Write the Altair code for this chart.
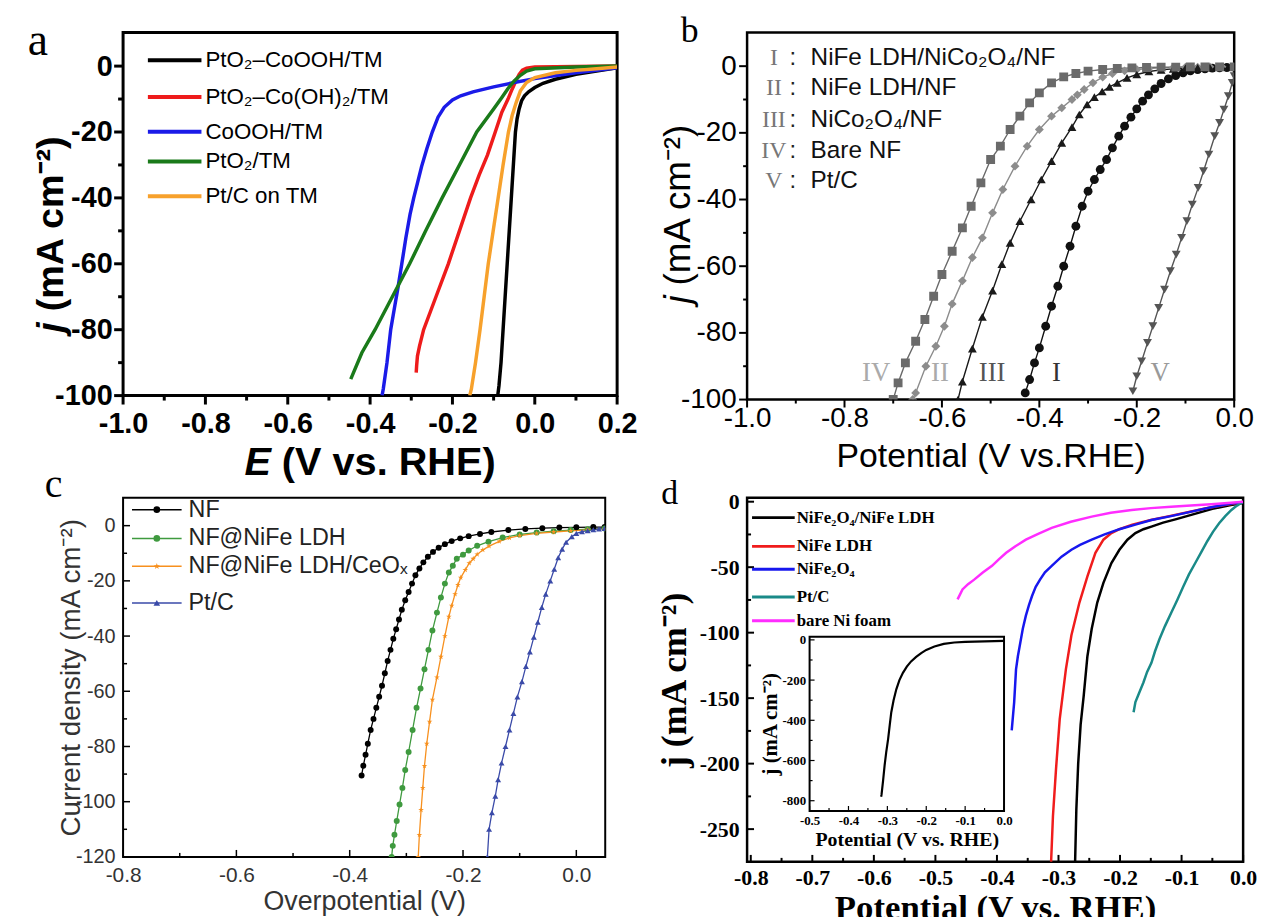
import altair as alt
import pandas as pd

# ================= DATA =================
# ---- panel a
a_names = ["PtO\u2082\u2013CoOOH/TM", "PtO\u2082\u2013Co(OH)\u2082/TM", "CoOOH/TM", "PtO\u2082/TM", "Pt/C on TM"]
a_colors = ["#000000", "#ee1b1b", "#1b1be8", "#1a7a1a", "#f7a12c"]
a_black_x = [0.2, 0.15, 0.1, 0.05, 0.02, 0.0, -0.015, -0.025, -0.032, -0.038, -0.043, -0.047, -0.052, -0.057, -0.062, -0.067, -0.072, -0.077, -0.082, -0.087, -0.09]
a_black_y = [-0.5, -1.5, -2.5, -4, -5.2, -6.5, -7.8, -9, -10.5, -13, -16, -20, -30, -40, -50, -60, -70, -80, -90, -97, -100]
a_red_x = [0.2, 0.1, 0.0, -0.02, -0.03, -0.038, -0.046, -0.055, -0.065, -0.08, -0.096, -0.115, -0.135, -0.156, -0.183, -0.21, -0.24, -0.27, -0.28, -0.285, -0.287, -0.288]
a_red_y = [0, -0.1, -0.3, -0.6, -1.2, -2.5, -4.5, -7, -10, -14, -20, -27, -33, -40, -50, -60, -70, -80, -85, -88, -91, -93]
a_blue_x = [0.2, 0.1, 0.0, -0.05, -0.1, -0.15, -0.18, -0.2, -0.22, -0.235, -0.249, -0.262, -0.275, -0.285, -0.294, -0.303, -0.313, -0.323, -0.332, -0.341, -0.35, -0.359, -0.368, -0.371]
a_blue_y = [-0.5, -2, -3.8, -5, -6.3, -7.8, -9, -10.3, -12.5, -15.5, -20, -25, -30.5, -35.5, -40, -45, -52, -60, -67, -73.5, -80, -90, -98, -100]
a_green_x = [0.2, 0.1, 0.0, -0.02, -0.035, -0.05, -0.065, -0.08, -0.1, -0.141, -0.183, -0.225, -0.265, -0.304, -0.346, -0.388, -0.42, -0.447]
a_green_y = [0, -0.3, -0.8, -1.5, -2.8, -4.5, -6.8, -9.5, -13, -20, -30, -40, -50, -60, -70, -80, -87, -95]
a_orange_x = [0.2, 0.15, 0.1, 0.05, 0.0, -0.02, -0.035, -0.045, -0.055, -0.064, -0.077, -0.089, -0.101, -0.113, -0.123, -0.133, -0.144, -0.154, -0.158]
a_orange_y = [-0.3, -0.8, -1.3, -2, -3.5, -5, -7.5, -11, -15, -20, -30, -40, -50, -60, -70, -80, -90, -98, -100]
a_xticks = [-1.0, -0.8, -0.6, -0.4, -0.2, 0.0, 0.2]
a_xminor = [-0.9, -0.7, -0.5, -0.3, -0.1, 0.1]
a_yticks = [0, -20, -40, -60, -80, -100]
a_yminor = [-10, -30, -50, -70, -90]

# ---- panel b
b_names = ["NiFe LDH/NiCo\u2082O\u2084/NF", "NiFe LDH/NF", "NiCo\u2082O\u2084/NF", "Bare NF", "Pt/C"]
b_numerals = ["I", "II", "III", "IV", "V"]
b_colors = ["#111111", "#8c8c8c", "#1a1a1a", "#6a6a6a", "#555555"]
b_shapes = ["circle", "diamond", "triangle-up", "square", "triangle-down"]
b_I_x = [0.0, -0.015, -0.03, -0.045, -0.06, -0.075, -0.09, -0.105, -0.12, -0.135, -0.15, -0.163, -0.176, -0.188, -0.2, -0.212, -0.225, -0.237, -0.25, -0.262, -0.275, -0.287, -0.3, -0.312, -0.325, -0.337, -0.35, -0.362, -0.375, -0.387, -0.4, -0.41, -0.42, -0.429]
b_I_y = [-0.3, -0.4, -0.5, -0.6, -0.8, -1, -1.4, -2, -2.8, -3.8, -5.2, -6.8, -8.6, -10.5, -12.8, -15.3, -18, -21, -24.5, -28, -31, -34, -37.5, -42, -48, -54, -60, -66, -72, -78, -84.5, -89, -94, -98]
b_II_x = [0.0, -0.025, -0.05, -0.075, -0.1, -0.125, -0.15, -0.175, -0.2, -0.225, -0.25, -0.27, -0.29, -0.308, -0.322, -0.333, -0.354, -0.375, -0.4, -0.425, -0.45, -0.475, -0.496, -0.517, -0.5375, -0.558, -0.579, -0.595, -0.6125, -0.633, -0.654, -0.66]
b_II_y = [-0.2, -0.2, -0.2, -0.3, -0.3, -0.4, -0.5, -0.7, -1, -1.4, -2.2, -3.3, -5, -7, -8.6, -10, -12.5, -15, -19, -24, -30, -37, -44, -51.5, -57.4, -64.4, -71.3, -78, -84, -90, -98, -100]
b_III_x = [0.0, -0.025, -0.05, -0.075, -0.1, -0.125, -0.15, -0.175, -0.2, -0.22, -0.24, -0.256, -0.271, -0.287, -0.302, -0.318, -0.333, -0.354, -0.375, -0.396, -0.417, -0.44, -0.46, -0.477, -0.496, -0.517, -0.5375, -0.558, -0.567]
b_III_y = [-0.3, -0.3, -0.4, -0.5, -0.6, -0.8, -1.1, -1.6, -2.5, -3.5, -5, -6.2, -7.6, -9.3, -11.5, -14.5, -18.3, -23, -28.5, -34, -40, -46.5, -53, -59.4, -67.3, -75.2, -84.7, -94.6, -100]
b_IV_x = [0.0, -0.03, -0.06, -0.09, -0.12, -0.15, -0.18, -0.21, -0.24, -0.27, -0.3, -0.325, -0.35, -0.375, -0.4, -0.42, -0.44, -0.46, -0.48, -0.5, -0.52, -0.54, -0.558, -0.579, -0.6, -0.617, -0.635, -0.654, -0.675, -0.69, -0.7]
b_IV_y = [-0.2, -0.2, -0.2, -0.2, -0.3, -0.3, -0.4, -0.5, -0.7, -1, -1.5, -2.2, -3.2, -5, -8, -11, -15, -19, -24, -28, -35, -42, -48.5, -55.5, -62.5, -69, -76, -82.5, -89, -95, -100]
b_V_x = [0.0, -0.004, -0.012, -0.021, -0.03, -0.04, -0.052, -0.063, -0.074, -0.086, -0.097, -0.108, -0.119, -0.131, -0.143, -0.155, -0.167, -0.178, -0.19, -0.2, -0.208]
b_V_y = [-3, -5, -9, -13, -17, -21, -26.5, -31.5, -36.5, -41.5, -46.5, -51.5, -56.5, -61.5, -67, -72.5, -78, -83, -88.5, -93, -97.5]
b_label_x = [-0.365, -0.604, -0.497, -0.735, -0.152]
b_label_y = [-92, -92, -92, -92, -92]
b_label_colors = ["#333333", "#aaaaaa", "#555555", "#aaaaaa", "#999999"]
b_xticks = [-1.0, -0.8, -0.6, -0.4, -0.2, 0.0]
b_xminor = [-0.9, -0.7, -0.5, -0.3, -0.1]
b_yticks = [0, -20, -40, -60, -80, -100]
b_yminor = [-10, -30, -50, -70, -90]

# ---- panel c
c_names = ["NF", "NF@NiFe LDH", "NF@NiFe LDH/CeO\u2093", "Pt/C"]
c_colors = ["#000000", "#3f9a3f", "#f7901e", "#3a4aa8"]
c_NF_x = [0.05, 0.03, 0.0, -0.03, -0.06, -0.09, -0.12, -0.15, -0.17, -0.19, -0.205, -0.22, -0.232, -0.243, -0.253, -0.262, -0.27, -0.277, -0.284, -0.29, -0.296, -0.302, -0.308, -0.313, -0.318, -0.323, -0.328, -0.333, -0.338, -0.343, -0.348, -0.353, -0.358, -0.363, -0.368, -0.372, -0.376, -0.379]
c_NF_y = [-0.5, -0.5, -0.6, -0.7, -0.9, -1.2, -1.6, -2.3, -3, -3.8, -4.6, -5.6, -6.7, -8, -9.5, -11.3, -13.3, -15.5, -18, -21, -24, -27, -30.5, -34, -37.5, -41, -45, -49, -53.5, -58, -62, -66, -70, -74, -79, -83, -87, -90.5]
c_LDH_x = [0.05, 0.02, -0.01, -0.04, -0.07, -0.1, -0.13, -0.155, -0.175, -0.19, -0.2, -0.211, -0.218, -0.225, -0.232, -0.239, -0.246, -0.254, -0.261, -0.268, -0.275, -0.282, -0.289, -0.296, -0.302, -0.307, -0.312, -0.317, -0.321, -0.324, -0.326]
c_LDH_y = [-1, -1.3, -1.6, -2, -2.5, -3.2, -4.3, -5.8, -7.3, -9, -10.5, -12, -14.5, -17, -21, -26, -31.5, -38, -45, -52, -59, -66, -74, -82, -88.5, -95, -101, -107, -112, -116, -120]
c_Ce_x = [0.05, 0.02, -0.01, -0.04, -0.07, -0.1, -0.118, -0.136, -0.154, -0.165, -0.175, -0.182, -0.189, -0.196, -0.204, -0.209, -0.214, -0.22, -0.225, -0.232, -0.239, -0.246, -0.254, -0.259, -0.264, -0.268, -0.271, -0.274, -0.277, -0.279]
c_Ce_y = [-1.2, -1.5, -1.9, -2.3, -2.8, -3.6, -4.4, -5.7, -7.4, -8.8, -10.4, -12, -13.6, -16, -18.8, -21.5, -24.8, -29, -33, -40, -47.5, -55, -63, -71, -79, -87, -95, -103, -112, -120]
c_Pt_x = [0.05, 0.04, 0.03, 0.02, 0.01, 0.0, -0.008, -0.018, -0.025, -0.032, -0.039, -0.046, -0.054, -0.061, -0.068, -0.075, -0.082, -0.089, -0.096, -0.104, -0.111, -0.118, -0.125, -0.132, -0.138, -0.143, -0.149, -0.154, -0.157]
c_Pt_y = [-1, -1.2, -1.5, -1.8, -2.2, -2.8, -4, -6, -8.5, -11.6, -15.8, -20, -24.8, -29.6, -35, -40.4, -45.7, -51, -56.5, -62, -68, -74, -80, -86, -92, -98, -104, -110, -120]
c_xticks = [-0.8, -0.6, -0.4, -0.2, 0.0]
c_xminor = [-0.7, -0.5, -0.3, -0.1]
c_yticks = [0, -20, -40, -60, -80, -100, -120]
c_yminor = [-10, -30, -50, -70, -90, -110]

# ---- panel d
d_names = ["NiFe\u2082O\u2084/NiFe LDH", "NiFe LDH", "NiFe\u2082O\u2084", "Pt/C", "bare Ni foam"]
d_colors = ["#000000", "#f01c1c", "#1717ee", "#1a8a88", "#ff2cff"]
d_k_x = [0.0, -0.02, -0.05, -0.08, -0.11, -0.13, -0.149, -0.162, -0.175, -0.188, -0.201, -0.214, -0.227, -0.237, -0.246, -0.253, -0.259, -0.264, -0.268, -0.271, -0.273]
d_k_y = [-1, -2.5, -5.5, -9.5, -13.5, -16, -19, -21, -24, -29, -36.7, -46.8, -62, -77, -97, -118, -148, -170, -200, -235, -275]
d_r_x = [0.0, -0.03, -0.06, -0.09, -0.12, -0.15, -0.18, -0.201, -0.214, -0.227, -0.24, -0.253, -0.266, -0.279, -0.288, -0.298, -0.304, -0.309, -0.312]
d_r_y = [-0.5, -2.5, -5, -8, -11, -14, -17.5, -21, -24, -29, -39, -57, -77, -102, -128, -166, -204, -240, -275]
d_b_x = [0.0, -0.019, -0.05, -0.084, -0.117, -0.149, -0.175, -0.201, -0.225, -0.246, -0.265, -0.279, -0.295, -0.311, -0.322, -0.33, -0.337, -0.343, -0.348, -0.353, -0.358, -0.362, -0.366, -0.369, -0.372, -0.376]
d_b_y = [-0.5, -1.3, -4, -7.6, -11, -14, -17.5, -21, -25, -29, -33, -36.7, -42, -49, -54, -59.5, -65, -72, -79, -87, -97, -107.5, -118, -128, -153, -174.6]
d_t_x = [0.0, -0.01, -0.019, -0.029, -0.039, -0.049, -0.058, -0.068, -0.078, -0.088, -0.097, -0.107, -0.117, -0.127, -0.136, -0.143, -0.149, -0.156, -0.162, -0.169, -0.175, -0.178]
d_t_y = [0, -3, -6.3, -11, -16.4, -23, -30, -38.5, -47, -55.5, -64.5, -75, -85, -95, -105, -114, -123, -130, -138, -146, -153, -160.7]
d_m_x = [0.0, -0.025, -0.052, -0.085, -0.117, -0.15, -0.181, -0.215, -0.246, -0.28, -0.311, -0.333, -0.353, -0.37, -0.385, -0.397, -0.408, -0.423, -0.437, -0.447, -0.456, -0.464]
d_m_y = [0, -1, -2, -2.9, -3.8, -4.9, -6.3, -8.5, -11.4, -15.3, -20, -24.5, -29, -34, -39, -44, -49, -54, -59.5, -63, -67, -74.6]
d_xticks = [-0.8, -0.7, -0.6, -0.5, -0.4, -0.3, -0.2, -0.1, 0.0]
d_xminor = [-0.75, -0.65, -0.55, -0.45, -0.35, -0.25, -0.15, -0.05]
d_yticks = [0, -50, -100, -150, -200, -250]
d_yminor = [-25, -75, -125, -175, -225]

# ---- inset of d
i_x = [0.0, -0.05, -0.1, -0.128, -0.155, -0.179, -0.2, -0.213, -0.226, -0.239, -0.25, -0.26, -0.269, -0.277, -0.284, -0.29, -0.294, -0.298, -0.303, -0.307, -0.311, -0.315, -0.316]
i_y = [-5, -7, -10, -13, -20, -33, -50, -66, -85, -107, -133, -164, -200, -246, -300, -361, -425, -492, -560, -623, -700, -770, -780]
i_xticks = [-0.5, -0.4, -0.3, -0.2, -0.1, 0.0]
i_xminor = [-0.45, -0.35, -0.25, -0.15, -0.05]
i_yticks = [0, -200, -400, -600, -800]
i_yminor = [-100, -300, -500, -700]

# ================= HELPERS =================
SANS = "Liberation Sans"
SERIF = "Liberation Serif"


def df_from(names, xs, ys):
    rows = []
    for n, xl, yl in zip(names, xs, ys):
        for i, (xv, yv) in enumerate(zip(xl, yl)):
            rows.append({"series": n, "x": xv, "y": yv, "i": i})
    return pd.DataFrame(rows)


def lab(fmt):
    return "replace(replace(format(datum.value, '%s'), '\u2212', '-'), '\u2212', '-')" % fmt


def axis(values, fmt, font, size, weight, color, pad, title, tsize, tpad, **kw):
    return alt.Axis(values=values, labelExpr=lab(fmt), ticks=False, domain=False, grid=False,
                    labelFont=font, labelFontSize=size, labelFontWeight=weight, labelColor=color,
                    labelPadding=pad, labelFlush=False, labelOverlap=False,
                    title=title, titleFont=font, titleFontSize=tsize, titleFontWeight=weight,
                    titleColor=color, titlePadding=tpad, **kw)


def tick_layers(xs, ys, xmaj, xmin, ymaj, ymin, x0, y0, inward, lmaj, lmin, w):
    s = -1 if inward else 1
    out = []
    for vals, L in ((xmaj, lmaj), (xmin, lmin)):
        out.append(alt.Chart(pd.DataFrame({"v": vals})).mark_tick(
            orient="vertical", size=L, thickness=w, yOffset=s * L / 2, color="black", opacity=1
        ).encode(x=alt.X("v:Q", scale=xs),
                 y=alt.Y(datum=y0, type="quantitative", scale=ys)))
    for vals, L in ((ymaj, lmaj), (ymin, lmin)):
        out.append(alt.Chart(pd.DataFrame({"v": vals})).mark_tick(
            orient="horizontal", size=L, thickness=w, xOffset=-s * L / 2, color="black", opacity=1
        ).encode(x=alt.X(datum=x0, type="quantitative", scale=xs),
                 y=alt.Y("v:Q", scale=ys)))
    return out


def txt(t, x, y, font, size, color="black", weight="normal", align="left", baseline="middle",
        angle=0, style="normal"):
    return alt.Chart(pd.DataFrame({"t": [t]})).mark_text(
        font=font, fontSize=size, color=color, fontWeight=weight, align=align, baseline=baseline,
        angle=angle, fontStyle=style
    ).encode(x=alt.value(x), y=alt.value(y), text="t:N")


def hline(x1, x2, y, color, w):
    return alt.Chart(pd.DataFrame({"t": [0]})).mark_rule(color=color, strokeWidth=w).encode(
        x=alt.value(x1), x2=alt.value(x2), y=alt.value(y))


UNIT = "(mA cm\u207b\u00b2)"

# ================= PANEL A =================
AW, AH = 498, 366
ax_s = alt.Scale(domain=[-1.0, 0.2], nice=False, zero=False)
ay_s = alt.Scale(domain=[-100, 10.2], nice=False, zero=False)
a_df = df_from(a_names, [a_black_x, a_red_x, a_blue_x, a_green_x, a_orange_x],
               [a_black_y, a_red_y, a_blue_y, a_green_y, a_orange_y])
a_lines = alt.Chart(a_df).mark_line(strokeWidth=3.5, clip=True).encode(
    x=alt.X("x:Q", scale=ax_s, axis=axis(a_xticks, ".1f", SANS, 29, "bold", "black", 14, None, 10, 0)),
    y=alt.Y("y:Q", scale=ay_s, axis=axis(a_yticks, "d", SANS, 29, "bold", "black", 11, None, 10, 0)),
    color=alt.Color("series:N", scale=alt.Scale(domain=a_names, range=a_colors), legend=None),
    order="i:Q")
a_layers = [a_lines] + tick_layers(ax_s, ay_s, a_xticks, a_xminor, a_yticks, a_yminor, -1.0, -100, False, 9, 5, 3)
a_leg_y = [28, 65, 100, 130, 165]
for i, n in enumerate(a_names):
    a_layers.append(hline(25, 79, a_leg_y[i], a_colors[i], 4))
    a_layers.append(txt(n, 83, a_leg_y[i], SANS, 22.5))
# axis titles with italic symbols
a_layers.append(txt("E", 149, 446, SANS, 40, weight="bold", style="italic", align="right", baseline="alphabetic"))
a_layers.append(txt("(V vs. RHE)", 160, 446, SANS, 40, weight="bold", align="left", baseline="alphabetic"))
a_layers.append(txt("j", -61, 292, SANS, 38, weight="bold", style="italic", align="right", baseline="alphabetic", angle=270))
a_layers.append(txt(UNIT, -61, 281, SANS, 38, weight="bold", align="left", baseline="alphabetic", angle=270))
a_layers.append(txt("a", -86, -13, SERIF, 46, align="center", baseline="top"))
# invisible anchor fixing the top-left corner of the figure
a_layers.append(alt.Chart(pd.DataFrame({"t": [0]})).mark_rule(opacity=0).encode(
    x=alt.value(-114), x2=alt.value(-113), y=alt.value(-19)))
panel_a = alt.layer(*a_layers).properties(width=AW, height=AH,
                                          view=alt.ViewBackground(stroke="black", strokeWidth=3))

# ================= PANEL B =================
BW, BH = 491, 370
bx_s = alt.Scale(domain=[-1.0, 0.0], nice=False, zero=False)
by_s = alt.Scale(domain=[-100, 10.1], nice=False, zero=False)
b_df = df_from(b_names, [b_I_x, b_II_x, b_III_x, b_IV_x, b_V_x], [b_I_y, b_II_y, b_III_y, b_IV_y, b_V_y])
b_color = alt.Color("series:N", scale=alt.Scale(domain=b_names, range=b_colors), legend=None)
b_lines = alt.Chart(b_df).mark_line(strokeWidth=1.4, clip=True).encode(
    x=alt.X("x:Q", scale=bx_s, axis=axis(b_xticks, ".1f", SANS, 28, "normal", "black", 5, "Potential (V vs.RHE)", 34, 7)),
    y=alt.Y("y:Q", scale=by_s, axis=axis(b_yticks, "d", SANS, 28, "normal", "black", 11, None, 10, 0)),
    color=b_color, order="i:Q")
b_pts = alt.Chart(b_df).mark_point(filled=True, size=80, opacity=1, clip=True).encode(
    x=alt.X("x:Q", scale=bx_s), y=alt.Y("y:Q", scale=by_s), color=b_color,
    shape=alt.Shape("series:N", scale=alt.Scale(domain=b_names, range=b_shapes), legend=None))
b_layers = [b_lines, b_pts] + tick_layers(bx_s, by_s, b_xticks, b_xminor, b_yticks, b_yminor, -1.0, -100, False, 8, 4, 2)
for i, n in enumerate(b_numerals):
    b_layers.append(alt.Chart(pd.DataFrame({"t": [n]})).mark_text(
        font=SERIF, fontSize=27, baseline="middle", align="center", color=b_label_colors[i]).encode(
        x=alt.X(datum=b_label_x[i], type="quantitative", scale=bx_s),
        y=alt.Y(datum=b_label_y[i], type="quantitative", scale=by_s), text="t:N"))
b_leg_y = [26, 56, 88, 120, 150]
for i, n in enumerate(b_names):
    b_layers.append(txt(b_numerals[i], 27, b_leg_y[i], SERIF, 24, color="#777777", align="center"))
    b_layers.append(txt(":", 46, b_leg_y[i], SANS, 24, color="#222222", align="center"))
    b_layers.append(txt(n, 64, b_leg_y[i], SANS, 24.5, color="#111111"))
b_layers.append(txt("j", -58, 265, SANS, 37, style="italic", align="right", baseline="alphabetic", angle=270))
b_layers.append(txt(UNIT, -58, 255, SANS, 37, align="left", baseline="alphabetic", angle=270))
b_layers.append(txt("b", -58, -18, SERIF, 36, align="center", baseline="top"))
panel_b = alt.layer(*b_layers).properties(width=BW, height=BH,
                                          view=alt.ViewBackground(stroke="black", strokeWidth=2.5))

# ================= PANEL C =================
CW, CH = 486, 362
cx_s = alt.Scale(domain=[-0.8, 0.051], nice=False, zero=False)
cy_s = alt.Scale(domain=[-120, 10.1], nice=False, zero=False)
c_df = df_from(c_names, [c_NF_x, c_LDH_x, c_Ce_x, c_Pt_x], [c_NF_y, c_LDH_y, c_Ce_y, c_Pt_y])
c_color = alt.Color("series:N", scale=alt.Scale(domain=c_names, range=c_colors), legend=None)
star = "M0,-1L0.2245,-0.309L0.951,-0.309L0.363,0.118L0.588,0.809L0,0.382L-0.588,0.809L-0.363,0.118L-0.951,-0.309L-0.2245,-0.309Z"
c_shapes = ["circle", "circle", star, "triangle-up"]
c_lines = alt.Chart(c_df).mark_line(strokeWidth=1.3, clip=True).encode(
    x=alt.X("x:Q", scale=cx_s, axis=axis(c_xticks, ".1f", SANS, 21, "normal", "#333333", 8, "Overpotential (V)", 27, 3)),
    y=alt.Y("y:Q", scale=cy_s, axis=axis(c_yticks, "d", SANS, 20, "normal", "#333333", 8, "Current density " + UNIT, 28, -10)),
    color=c_color, order="i:Q")
c_pts = alt.Chart(c_df).mark_point(filled=True, size=36, opacity=1, clip=True).encode(
    x=alt.X("x:Q", scale=cx_s), y=alt.Y("y:Q", scale=cy_s), color=c_color,
    shape=alt.Shape("series:N", scale=alt.Scale(domain=c_names, range=c_shapes), legend=None))
c_layers = [c_lines, c_pts] + tick_layers(cx_s, cy_s, c_xticks, c_xminor, c_yticks, c_yminor, -0.8, -120, True, 7, 4, 1.5)
c_leg_y = [12, 41, 69, 106]
for i, n in enumerate(c_names):
    c_layers.append(hline(9, 59, c_leg_y[i], c_colors[i], 1.5))
    c_layers.append(alt.Chart(pd.DataFrame({"t": [0]})).mark_point(
        filled=True, size=45, opacity=1, color=c_colors[i], shape=c_shapes[i]).encode(
        x=alt.value(34), y=alt.value(c_leg_y[i])))
    c_layers.append(txt(n, 66, c_leg_y[i], SANS, 23.5, color="#222222"))
c_layers.append(txt("c", -70, -33, SERIF, 40, align="center", baseline="top"))
panel_c = alt.layer(*c_layers).properties(width=CW, height=CH,
                                          view=alt.ViewBackground(stroke="black", strokeWidth=2))

# ================= PANEL D =================
DW, DH = 500, 367
dx_s = alt.Scale(domain=[-0.806, 0.0], nice=False, zero=False)
dy_s = alt.Scale(domain=[-275, 3], nice=False, zero=False)
d_df = df_from(d_names, [d_k_x, d_r_x, d_b_x, d_t_x, d_m_x], [d_k_y, d_r_y, d_b_y, d_t_y, d_m_y])
d_lines = alt.Chart(d_df).mark_line(strokeWidth=2.5, clip=True).encode(
    x=alt.X("x:Q", scale=dx_s, axis=axis(d_xticks, ".1f", SERIF, 22, "bold", "black", 6, "Potential (V vs. RHE)", 35, 2)),
    y=alt.Y("y:Q", scale=dy_s, axis=axis(d_yticks, "d", SERIF, 22, "bold", "black", 8, "j " + UNIT, 36, 6)),
    color=alt.Color("series:N", scale=alt.Scale(domain=d_names, range=d_colors), legend=None),
    order="i:Q")
d_layers = [d_lines] + tick_layers(dx_s, dy_s, d_xticks, d_xminor, d_yticks, d_yminor, -0.806, -275, True, 7, 4, 2)
d_leg_y = [20, 49, 72, 100, 124]
for i, n in enumerate(d_names):
    d_layers.append(hline(5, 48, d_leg_y[i], d_colors[i], 3))
    d_layers.append(txt(n, 50, d_leg_y[i], SERIF, 17, weight="bold"))
d_layers.append(txt("d", -78, -21, SERIF, 34, align="center", baseline="top"))
d_main = alt.layer(*d_layers)

# inset, drawn through its own scales placed inside panel d
ix_s = alt.Scale(domain=[-0.5, 0.0], range=[63, 259], nice=False, zero=False)
iy_s = alt.Scale(domain=[-851, 16], range=[315.7, 140], nice=False, zero=False)
i_frame = alt.Chart(pd.DataFrame({"t": [0]})).mark_rect(fill="white", stroke="black", strokeWidth=2).encode(
    x=alt.X(datum=-0.5, type="quantitative", scale=ix_s), x2=alt.X2(datum=0.0),
    y=alt.Y(datum=-851, type="quantitative", scale=iy_s), y2=alt.Y2(datum=16))
i_line = alt.Chart(pd.DataFrame({"x": i_x, "y": i_y, "i": list(range(len(i_x)))})).mark_line(
    strokeWidth=2.2, color="black").encode(
    x=alt.X("x:Q", scale=ix_s, axis=axis(i_xticks, ".1f", SERIF, 13, "bold", "black", 4,
                                         "Potential (V vs. RHE)", 20, 2, orient="bottom", offset=315.7 - DH)),
    y=alt.Y("y:Q", scale=iy_s, axis=axis(i_yticks, "d", SERIF, 13, "bold", "black", 4,
                                         "j " + UNIT, 21, 2, orient="left", offset=-63)),
    order="i:Q")
i_layers = [i_frame, i_line] + tick_layers(ix_s, iy_s, i_xticks, i_xminor, i_yticks, i_yminor, -0.5, -851, True, 5, 3, 1.2)
d_inset = alt.layer(*i_layers)
panel_d = alt.layer(d_main, d_inset).resolve_scale(x="independent", y="independent").properties(
    width=DW, height=DH, view=alt.ViewBackground(stroke="black", strokeWidth=2.5))

# ================= FIGURE =================
chart = alt.concat(panel_a, panel_b, panel_c, panel_d, columns=2,
                   spacing={"row": 99, "column": 131}, bounds="flush").resolve_scale(
    color="independent", shape="independent").properties(
    padding=0, background="white").configure_view(stroke=None)

chart.save("out.html", embed_options={"renderer": "svg", "actions": False})
